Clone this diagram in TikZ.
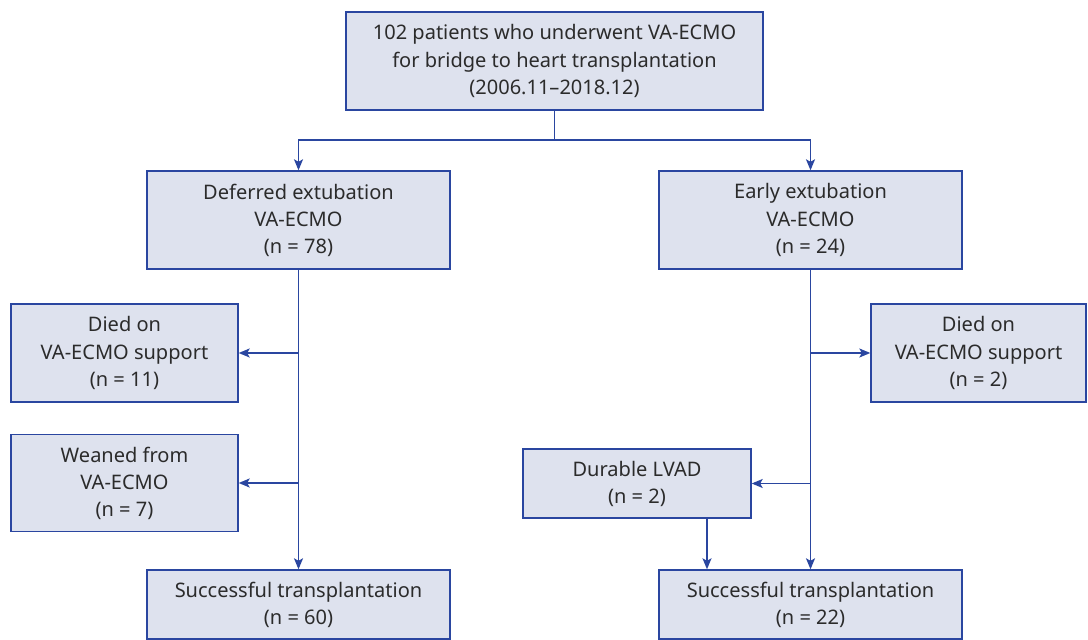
\documentclass[tikz,border=0pt]{standalone}
\usepackage{fontspec}
\setmainfont{Noto Sans}
\usepackage{tikz}
\usetikzlibrary{arrows.meta}
\pgfdeclarelayer{bg}
\pgfsetlayers{bg,main}
\definecolor{boxfill}{RGB}{222,226,238}
\definecolor{boxline}{RGB}{42,70,160}
\definecolor{txt}{RGB}{43,43,43}
\tikzset{
  box/.style={draw=boxline, fill=boxfill, line width=0.8pt, align=center,
    inner sep=0pt, text=txt, font=\fontsize{11.4}{15.4}\selectfont},
  arr/.style={draw=boxline, line width=0.8pt, -{Stealth[length=2.2mm,width=1.8mm,inset=0.5mm]}},
  ln/.style={draw=boxline, line width=0.8pt}
}

\begin{document}
\begin{tikzpicture}[x=0.02cm, y=-0.02cm]
        \node (start) [box, minimum width=8.34cm, minimum height=1.96cm] at (554.5, 61) {102 patients who underwent VA-ECMO\\for bridge to heart transplantation\\(2006.11--2018.12)};
        \node (deferred) [box, minimum width=6.06cm, minimum height=1.96cm] at (298.5, 220) {Deferred extubation\\VA-ECMO\\(n = 78)};
        \node (early) [box, minimum width=6.06cm, minimum height=1.96cm] at (810.5, 220) {Early extubation\\VA-ECMO\\(n = 24)};
        \node (diedL) [box, minimum width=4.54cm, minimum height=1.96cm] at (124.5, 353) {Died on\\VA-ECMO support\\(n = 11)};
        \node (weaned) [box, minimum width=4.54cm, minimum height=1.94cm] at (124.5, 483) {Weaned from\\VA-ECMO\\(n = 7)};
        \node (diedR) [box, minimum width=4.30cm, minimum height=1.96cm] at (978.5, 353) {Died on\\VA-ECMO support\\(n = 2)};
        \node (lvad) [box, minimum width=4.56cm, minimum height=1.38cm] at (637, 483.5) {Durable LVAD\\(n = 2)};
        \node (succL) [box, minimum width=6.06cm, minimum height=1.38cm] at (298.5, 604.5) {Successful transplantation\\(n = 60)};
        \node (succR) [box, minimum width=6.06cm, minimum height=1.38cm] at (810.5, 604.5) {Successful transplantation\\(n = 22)};
        \coordinate (split) at (554.5, 140);
        \begin{pgfonlayer}{bg}
                \fill [white] (0,0) rectangle (1088,634);
                \draw [ln] (start) -- (split);
                \draw [arr] (split) -| (deferred);
                \draw [arr] (split) -| (early);
                \draw [arr] (deferred) -- (succL);
                \draw [arr] (deferred.south |- diedL.east) -- (diedL);
                \draw [arr] (deferred.south |- weaned.east) -- (weaned);
                \draw [arr] (early) -- (succR);
                \draw [arr] (early.south |- diedR.west) -- (diedR);
                \draw [arr] (early.south |- lvad.east) -- (lvad);
                \draw [arr] ([xshift=1.4cm]lvad.south) -- ([xshift=1.4cm]lvad.south |- succR.north);
        \end{pgfonlayer}
        \useasboundingbox (0,0) rectangle (1088,634);
\end{tikzpicture}
\end{document}
